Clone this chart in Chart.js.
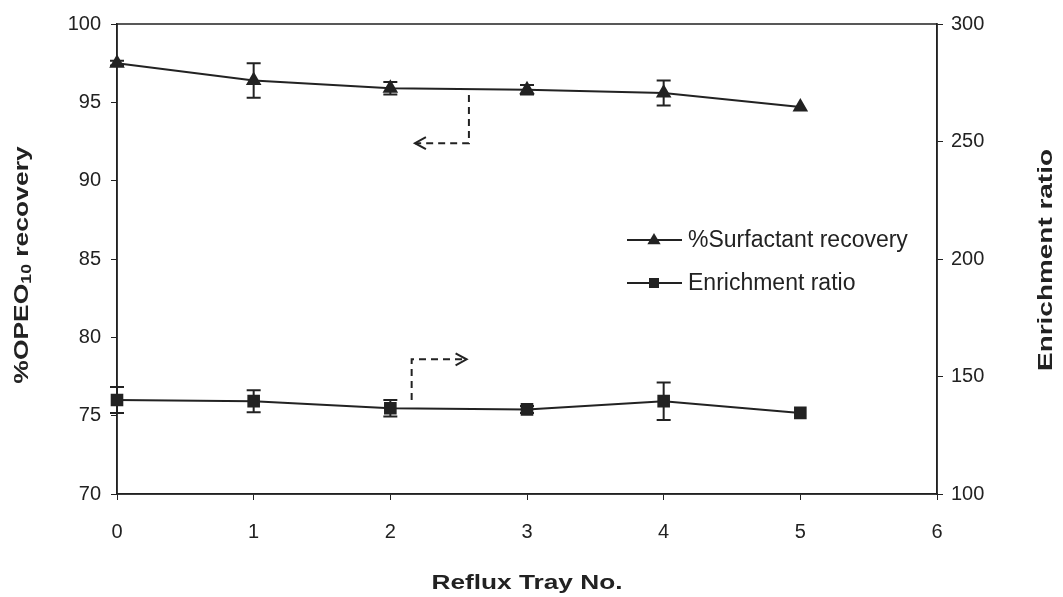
<!DOCTYPE html>
<html>
<head>
<meta charset="utf-8">
<script src="https://cdn.jsdelivr.net/npm/chart.js@4/dist/chart.umd.min.js"></script>
<style>
  body { margin: 0; background: #fff; }
  #wrap { width: 1063px; height: 597px; }
</style>
</head>
<body>
<div id="wrap"><canvas id="trayChart" width="1063" height="597"></canvas></div>
<script>
// data
const trays = [0, 1, 2, 3, 4, 5];
const recovery = [97.5, 96.4, 95.9, 95.8, 95.6, 94.7];
const recoveryErr = [0.15, 1.1, 0.4, 0.3, 0.8, 0];
const enrichment = [140, 139.5, 136.5, 136, 139.5, 134.5];
const enrichmentErr = [5.5, 4.7, 3.5, 1.5, 8, 0];

const xTicks = [0, 1, 2, 3, 4, 5, 6];
const leftTicks = [70, 75, 80, 85, 90, 95, 100];
const rightTicks = [100, 150, 200, 250, 300];

// dashed arrows pointing to each series' axis (data space)
const arrowLeft = [[2.575, 95.47], [2.575, 92.39], [2.18, 92.39]];
const arrowRight = [[2.156, 140], [2.156, 157.3], [2.558, 157.3]];

const ink = '#222';
const font = '"Liberation Sans", Arial, sans-serif';

function drawMarker(ctx, style, x, y, r) {
  ctx.beginPath();
  if (style === 'triangle') {
    ctx.moveTo(x, y - r);
    ctx.lineTo(x + r * 0.95, y + r * 0.6);
    ctx.lineTo(x - r * 0.95, y + r * 0.6);
    ctx.closePath();
  } else {
    ctx.rect(x - r, y - r, 2 * r, 2 * r);
  }
  ctx.fill();
}

// text stretched along its own direction to match the wide bold face of the original
function stretchedText(ctx, parts, cx, cy, angle, sx) {
  ctx.save();
  ctx.translate(cx, cy);
  ctx.rotate(angle);
  ctx.scale(sx, 1);
  let total = 0;
  parts.forEach(pt => { ctx.font = pt[1]; total += ctx.measureText(pt[0]).width; });
  let x = -total / 2;
  ctx.textAlign = 'left';
  ctx.textBaseline = 'middle';
  parts.forEach(pt => {
    ctx.font = pt[1];
    ctx.fillText(pt[0], x, pt[2]);
    x += ctx.measureText(pt[0]).width;
  });
  ctx.restore();
}

const decorations = {
  id: 'decorations',
  beforeDatasetsDraw(chart) {
    const ctx = chart.ctx;
    const xs = chart.scales.x;
    ctx.save();
    ctx.strokeStyle = ink;
    ctx.lineWidth = 2;
    const sets = [[recovery, recoveryErr, chart.scales.yL], [enrichment, enrichmentErr, chart.scales.yR]];
    sets.forEach(([vals, errs, ys]) => {
      vals.forEach((v, i) => {
        if (!errs[i]) return;
        const px = xs.getPixelForValue(trays[i]);
        const top = ys.getPixelForValue(v + errs[i]);
        const bot = ys.getPixelForValue(v - errs[i]);
        ctx.beginPath();
        ctx.moveTo(px, top); ctx.lineTo(px, bot);
        ctx.moveTo(px - 7, top); ctx.lineTo(px + 7, top);
        ctx.moveTo(px - 7, bot); ctx.lineTo(px + 7, bot);
        ctx.stroke();
      });
    });
    ctx.restore();
  },
  afterDraw(chart) {
    const ctx = chart.ctx;
    const a = chart.chartArea;
    const xs = chart.scales.x;
    ctx.save();

    // plot box
    ctx.strokeStyle = ink;
    ctx.lineWidth = 1.5;
    ctx.strokeRect(a.left, a.top, a.right - a.left, a.bottom - a.top);

    // dashed arrows
    ctx.lineWidth = 2;
    ctx.setLineDash([7, 5]);
    [[arrowLeft, chart.scales.yL], [arrowRight, chart.scales.yR]].forEach(([pts, ys]) => {
      const p = pts.map(q => [xs.getPixelForValue(q[0]), ys.getPixelForValue(q[1])]);
      ctx.beginPath();
      ctx.moveTo(p[0][0], p[0][1]);
      for (let i = 1; i < p.length; i++) ctx.lineTo(p[i][0], p[i][1]);
      ctx.stroke();
      const tip = p[p.length - 1];
      const dir = Math.sign(tip[0] - p[p.length - 2][0]);
      ctx.save();
      ctx.setLineDash([]);
      ctx.beginPath();
      ctx.moveTo(tip[0] - dir * 11, tip[1] - 6);
      ctx.lineTo(tip[0], tip[1]);
      ctx.lineTo(tip[0] - dir * 11, tip[1] + 6);
      ctx.stroke();
      ctx.restore();
    });
    ctx.setLineDash([]);

    // legend inside the plot
    ctx.fillStyle = ink;
    ctx.font = '23px ' + font;
    ctx.textBaseline = 'middle';
    ctx.textAlign = 'left';
    const rows = [[chart.data.datasets[0], 'triangle', 240], [chart.data.datasets[1], 'rect', 283]];
    rows.forEach(([ds, style, y]) => {
      ctx.beginPath();
      ctx.moveTo(627, y); ctx.lineTo(682, y);
      ctx.stroke();
      drawMarker(ctx, style, 654, y, style === 'triangle' ? 7 : 5);
      ctx.fillText(ds.label, 688, y + 1);
    });

    // axis titles
    const bold = 'bold 21px ' + font;
    stretchedText(ctx, [['Reflux Tray No.', bold, 0]], 527, 583, 0, 1.25);
    stretchedText(ctx, [['Enrichment ratio', bold, 0]], 1046, 260, -Math.PI / 2, 1.33);
    stretchedText(ctx, [['%OPEO', bold, 0], ['10', 'bold 14px ' + font, 5], [' recovery', bold, 0]],
      22, 265, -Math.PI / 2, 1.26);

    ctx.restore();
  }
};

const tickFont = { family: font, size: 20 };

new Chart(document.getElementById('trayChart'), {
  type: 'line',
  data: {
    datasets: [
      {
        label: '%Surfactant recovery',
        data: trays.map((t, i) => ({ x: t, y: recovery[i] })),
        yAxisID: 'yL',
        borderColor: ink,
        backgroundColor: ink,
        borderWidth: 2,
        pointStyle: 'triangle',
        pointRadius: 7,
        clip: false,
        tension: 0
      },
      {
        label: 'Enrichment ratio',
        data: trays.map((t, i) => ({ x: t, y: enrichment[i] })),
        yAxisID: 'yR',
        borderColor: ink,
        backgroundColor: ink,
        borderWidth: 2,
        pointStyle: 'rect',
        pointRadius: 7.5,
        clip: false,
        tension: 0
      }
    ]
  },
  options: {
    responsive: false,
    animation: false,
    devicePixelRatio: 1,
    layout: { padding: { top: 24, left: 0, right: 0, bottom: 0 } },
    plugins: { legend: { display: false }, tooltip: { enabled: false } },
    scales: {
      x: {
        type: 'linear',
        min: 0, max: 6,
        afterFit: s => { s.height = 103; },
        afterBuildTicks: s => { s.ticks = xTicks.map(v => ({ value: v })); },
        grid: { display: true, drawOnChartArea: false, tickLength: 6, color: ink },
        border: { display: true, color: ink, width: 1.5 },
        ticks: { color: ink, font: tickFont, padding: 20, maxRotation: 0 }
      },
      yL: {
        type: 'linear',
        position: 'left',
        min: 70, max: 100,
        afterFit: s => { s.width = 117; },
        afterBuildTicks: s => { s.ticks = leftTicks.map(v => ({ value: v })); },
        grid: { display: true, drawOnChartArea: false, tickLength: 6, color: ink },
        border: { display: true, color: ink, width: 1.5 },
        ticks: { color: ink, font: tickFont, padding: 10 }
      },
      yR: {
        type: 'linear',
        position: 'right',
        min: 100, max: 300,
        afterFit: s => { s.width = 126; },
        afterBuildTicks: s => { s.ticks = rightTicks.map(v => ({ value: v })); },
        grid: { display: true, drawOnChartArea: false, tickLength: 6, color: ink },
        border: { display: true, color: ink, width: 1.5 },
        ticks: { color: ink, font: tickFont, padding: 8 }
      }
    }
  },
  plugins: [decorations]
});
</script>
</body>
</html>
